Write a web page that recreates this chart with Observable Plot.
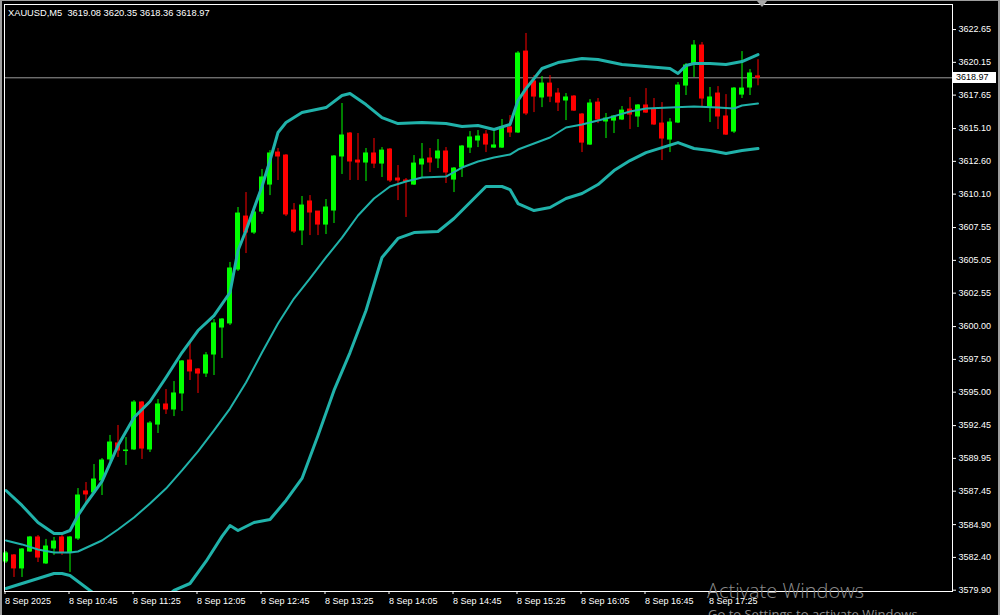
<!DOCTYPE html>
<html><head><meta charset="utf-8">
<script src="https://cdn.jsdelivr.net/npm/d3@7"></script>
<script src="https://cdn.jsdelivr.net/npm/@observablehq/plot@0.6"></script>
<style>
html,body{margin:0;padding:0;background:#000;}
#wrap{position:relative;width:1000px;height:615px;overflow:hidden;background:#000;font-family:"Liberation Sans",Arial,sans-serif;}
#chart{position:absolute;left:0;top:0;}
#hdr{position:absolute;left:8px;top:8px;color:#fff;font-size:9.3px;white-space:pre;line-height:11px;}
#pbox{position:absolute;left:953px;width:43px;height:11px;background:#fff;color:#000;font-size:9px;line-height:11px;padding-left:3px;box-sizing:border-box;}
.wm1{position:absolute;left:707px;top:577px;color:#8a8a8a;font-family:"Open Sans",sans-serif;font-size:20px;font-weight:300;white-space:nowrap;}
.wm2{position:absolute;left:708px;top:605px;color:#8a8a8a;font-family:"Open Sans",sans-serif;font-size:13px;white-space:nowrap;}
#tri{position:absolute;left:757px;top:1px;width:0;height:0;border-left:5px solid transparent;border-right:5px solid transparent;border-top:6px solid #a8a8a8;}
#bl{position:absolute;left:0;top:0;width:2px;height:615px;background:#9e9e9e;}
#bt{position:absolute;left:0;top:0;width:1000px;height:1px;background:#9e9e9e;}
#br{position:absolute;right:0;top:0;width:2px;height:615px;background:#9e9e9e;}
</style></head>
<body><div id="wrap"><div id="chart"></div></div>
<script>
const symbol = "XAUUSD,M5";
const opens = [3582.09,3582.55,3581.56,3582.85,3583.92,3581.94,3583.08,3583.92,3582.78,3583.84,
3587.43,3587.35,3588.26,3589.87,3591.09,3590.51,3590.63,3594.21,3590.63,3592.53,
3594.06,3593.68,3594.90,3597.41,3596.73,3596.42,3597.87,3599.93,3600.24,3604.35,
3608.39,3607.17,3608.77,3610.83,3613.27,3613.04,3608.85,3607.33,3609.54,3608.77,
3607.78,3608.85,3612.97,3614.72,3612.66,3612.51,3613.20,3612.43,3613.50,3611.29,
3611.14,3610.83,3612.36,3612.82,3612.82,3613.35,3611.21,3612.13,3613.65,3614.19,
3614.64,3613.65,3613.65,3615.18,3614.80,3620.97,3618.69,3617.47,3618.53,3617.77,
3617.24,3617.54,3616.17,3613.88,3617.08,3615.64,3615.71,3615.79,3616.55,3616.02,
3616.86,3616.55,3615.48,3614.26,3615.56,3618.38,3619.98,3621.43,3616.70,3617.77,
3616.02,3614.87,3617.69,3618.23,3619.08];
const highs = [3582.85,3582.62,3583.08,3584.00,3584.07,3583.77,3583.92,3584.07,3584.00,3587.65,
3588.11,3589.48,3589.94,3591.70,3592.46,3591.54,3594.36,3594.29,3592.76,3594.44,
3595.20,3595.81,3597.41,3598.79,3596.80,3598.02,3600.54,3600.61,3604.89,3609.08,
3610.22,3608.85,3611.98,3613.42,3613.58,3613.12,3609.38,3609.92,3609.99,3608.77,
3609.69,3613.04,3617.01,3614.80,3614.72,3613.58,3614.34,3613.65,3613.58,3612.28,
3611.29,3613.04,3613.96,3613.58,3614.26,3613.65,3612.13,3613.81,3614.87,3614.95,
3614.95,3614.95,3615.79,3616.09,3620.97,3622.35,3619.14,3619.07,3619.14,3618.15,
3617.77,3617.62,3616.25,3617.31,3617.39,3616.25,3616.09,3616.78,3617.47,3616.93,
3618.15,3617.39,3617.08,3615.86,3618.61,3620.06,3621.81,3621.66,3618.23,3618.30,
3617.69,3618.23,3620.97,3619.60,3620.35];
const lows = [3581.94,3580.87,3580.87,3582.78,3582.01,3581.86,3582.55,3582.55,3581.25,3583.69,
3586.36,3587.20,3587.12,3589.71,3590.02,3589.41,3590.55,3589.87,3590.40,3591.85,
3593.30,3593.14,3593.53,3595.89,3594.90,3596.12,3596.27,3597.57,3600.08,3604.20,
3605.57,3607.02,3608.55,3609.99,3611.14,3608.39,3607.10,3606.18,3606.94,3606.94,
3607.02,3607.86,3611.60,3611.14,3611.14,3611.06,3612.05,3611.37,3610.99,3609.61,
3608.32,3610.76,3611.37,3611.75,3612.05,3610.91,3610.22,3611.37,3613.20,3613.65,
3613.27,3613.58,3613.58,3614.42,3614.72,3616.09,3616.32,3616.70,3617.08,3616.40,
3615.71,3616.40,3613.27,3613.81,3615.48,3614.34,3614.72,3615.71,3615.03,3615.18,
3616.25,3615.33,3612.66,3613.27,3615.48,3617.62,3618.99,3616.70,3615.56,3615.03,
3614.57,3614.72,3617.39,3617.62,3618.36];
const closes = [3582.70,3581.56,3583.00,3583.92,3582.39,3583.23,3583.61,3582.78,3583.92,3587.12,
3587.20,3588.34,3589.79,3591.16,3590.55,3590.55,3594.21,3590.70,3592.61,3594.06,
3593.68,3594.90,3597.34,3596.58,3596.42,3597.80,3600.24,3600.54,3604.43,3608.62,
3607.17,3608.70,3611.37,3613.20,3612.97,3608.55,3607.25,3609.23,3608.70,3607.78,
3609.08,3612.97,3614.57,3612.59,3612.51,3613.20,3612.43,3613.42,3611.14,3611.14,
3611.06,3612.43,3612.74,3612.51,3613.35,3611.75,3612.05,3613.73,3614.42,3614.49,
3613.88,3613.81,3615.18,3614.80,3620.82,3616.25,3617.54,3618.53,3617.54,3617.08,
3617.47,3616.47,3614.03,3617.01,3615.79,3615.86,3616.02,3616.47,3616.17,3616.86,
3616.32,3615.41,3614.34,3615.56,3618.38,3619.91,3621.43,3617.39,3617.47,3616.02,
3614.64,3618.15,3618.15,3619.30,3618.97];

// Bollinger band readings (candle index -> price)
const upperIdx = [0,2,4,6,7,8,9,10,12,14,16,18,20,22,24,26,28,29,30,32,33,34,35,37,40,42,43,45,47,49,52,55,57,59,61,63,64,65,67,69,72,74,77,80,83,84,85,86,88,90,92,94];
const upperVal = [3587.50,3586.36,3585.06,3584.22,3584.22,3584.45,3585.60,3586.51,3588.19,3590.93,3593.07,3594.29,3596.12,3598.02,3599.70,3600.84,3602.60,3605.80,3607.33,3610.68,3612.66,3614.80,3615.56,3616.32,3616.70,3617.62,3617.77,3616.93,3615.94,3615.48,3615.56,3615.48,3615.25,3615.33,3615.03,3615.41,3617.24,3618.15,3619.68,3620.13,3620.44,3620.36,3619.98,3619.83,3619.68,3619.30,3619.91,3620.06,3620.06,3619.98,3620.21,3620.74];
const middleIdx = [0,2,4,6,8,9,12,14,16,18,20,22,24,26,28,30,32,34,36,38,40,42,44,46,48,50,52,55,57,59,61,63,64,66,68,70,72,75,78,80,83,86,89,91,92,94];
const middleVal = [3583.69,3583.39,3583.00,3582.78,3582.78,3582.85,3583.69,3584.53,3585.44,3586.51,3587.65,3589.03,3590.48,3592.08,3593.75,3595.74,3598.02,3600.24,3602.14,3603.67,3605.27,3606.79,3608.47,3609.77,3610.68,3611.06,3611.37,3611.44,3612.13,3612.59,3612.89,3613.12,3613.50,3613.96,3614.42,3615.18,3615.41,3615.86,3616.40,3616.63,3616.70,3616.78,3616.70,3616.63,3616.86,3617.01];
const lowerIdx = [0,2,4,6,7,8,10,11,13,15,17,19,21,23,25,27,28,29,31,33,35,37,39,41,43,45,47,49,51,54,56,58,60,62,63,64,66,68,70,72,74,76,78,80,82,84,86,88,90,92,94];
const lowerVal = [3580.03,3580.41,3580.79,3581.17,3581.17,3581.02,3580.11,3579.65,3578.89,3578.35,3578.35,3578.89,3579.88,3580.41,3582.09,3584.00,3584.83,3584.45,3585.06,3585.29,3586.74,3588.42,3591.70,3595.13,3598.02,3601.23,3605.27,3606.72,3607.17,3607.25,3608.24,3609.46,3610.68,3610.68,3610.45,3609.38,3608.85,3609.08,3609.77,3610.15,3610.83,3611.90,3612.66,3613.27,3613.65,3614.03,3613.58,3613.42,3613.20,3613.42,3613.58];

const yTicks = [3622.65,3620.15,3617.65,3615.10,3612.60,3610.10,3607.55,3605.05,3602.55,3600.00,3597.50,3595.00,3592.45,3589.95,3587.45,3584.90,3582.40,3579.90];
const xTickIdx = [0,8,16,24,32,40,48,56,64,72,80,88];
const xTickLabels = ["8 Sep 2025","8 Sep 10:45","8 Sep 11:25","8 Sep 12:05","8 Sep 12:45","8 Sep 13:25","8 Sep 14:05","8 Sep 14:45","8 Sep 15:25","8 Sep 16:05","8 Sep 16:45","8 Sep 17:25"];

const candles = opens.map((o, i) => ({i, open: o, high: highs[i], low: lows[i], close: closes[i]}));
const bull = candles.filter(d => d.close >= d.open);
const bear = candles.filter(d => d.close < d.open);
const band = (idx, val) => idx.map((i, k) => ({i, v: val[k]}));
const last = candles[candles.length - 1];
const halfW = 2.5 / 8;

const body = (data, color) => Plot.rect(data, {
  x1: d => d.i - halfW, x2: d => d.i + halfW,
  y1: d => Math.min(d.open, d.close), y2: d => Math.max(d.open, d.close),
  fill: color, insetTop: -0.5, insetBottom: -0.5
});
const wick = (data, color) => Plot.ruleX(data, {x: "i", y1: "low", y2: "high", stroke: color, strokeWidth: 1});

const teal = "#20b2aa";
const chart = Plot.plot({
  width: 1000, height: 615,
  marginLeft: 4, marginTop: 4, marginRight: 48, marginBottom: 24,
  style: {background: "#000", color: "#fff", fontFamily: "'Liberation Sans', Arial, sans-serif", fontSize: "9px"},
  x: {type: "linear", domain: [-0.1875, 118.3125], axis: null},
  y: {domain: [3579.80, 3624.56], axis: null},
  marks: [
    Plot.ruleY([last.close], {stroke: "#9c9c9c", strokeWidth: 1}),
    wick(bull, "#00ff00"), wick(bear, "#ff0000"),
    body(bull, "#00ff00"), body(bear, "#ff0000"),
    Plot.line(band(middleIdx, middleVal), {x: "i", y: "v", stroke: teal, strokeWidth: 2, clip: true}),
    Plot.line(band(upperIdx, upperVal), {x: "i", y: "v", stroke: teal, strokeWidth: 3, clip: true}),
    Plot.line(band(lowerIdx, lowerVal), {x: "i", y: "v", stroke: teal, strokeWidth: 3, clip: true}),
    Plot.frame({stroke: "#fff"}),
    Plot.axisY(yTicks, {anchor: "right", tickSize: 3, tickPadding: 3, tickFormat: d => d.toFixed(2), label: null}),
    Plot.axisX(xTickIdx, {anchor: "bottom", tickSize: 3, tickPadding: 3, tickFormat: i => xTickLabels[xTickIdx.indexOf(i)], textAnchor: "start", dx: -1, label: null})
  ]
});
const wrap = document.getElementById("wrap");
document.getElementById("chart").appendChild(chart);

const hdr = document.createElement("div");
hdr.id = "hdr";
hdr.textContent = `${symbol}  ${last.open.toFixed(2)} ${last.high.toFixed(2)} ${last.low.toFixed(2)} ${last.close.toFixed(2)}`;
wrap.appendChild(hdr);

const py = chart.scale("y").apply(last.close);
const pbox = document.createElement("div");
pbox.id = "pbox";
pbox.style.top = (py - 5.5) + "px";
pbox.textContent = last.close.toFixed(2);
wrap.appendChild(pbox);

for (const [cls, txt] of [["wm1", "Activate Windows"], ["wm2", "Go to Settings to activate Windows."]]) {
  const d = document.createElement("div"); d.className = cls; d.textContent = txt; wrap.appendChild(d);
}
for (const id of ["tri", "bl", "bt", "br"]) {
  const d = document.createElement("div"); d.id = id; wrap.appendChild(d);
}
</script></body></html>
